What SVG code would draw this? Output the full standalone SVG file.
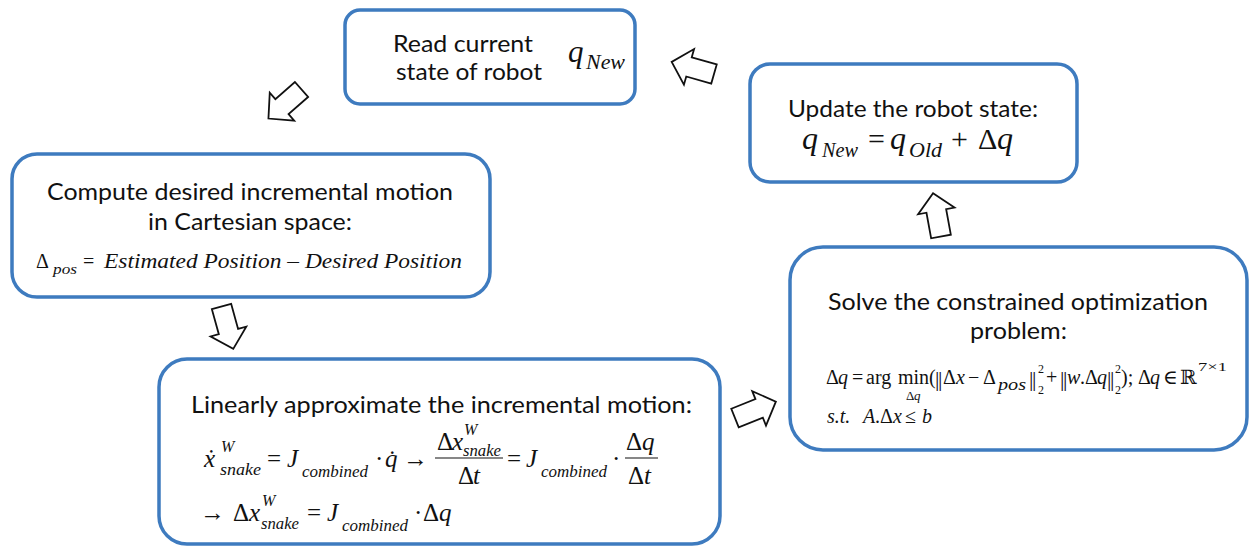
<svg xmlns="http://www.w3.org/2000/svg" width="1249" height="546" viewBox="0 0 1249 546">
<style>
.box{fill:#ffffff;stroke:#3E7BBF;stroke-width:3.5}
.t{font-family:Lato,"Open Sans","Liberation Sans",sans-serif;font-size:23px;fill:#111111}
.m{font-family:"Liberation Serif","DejaVu Serif",serif;font-style:italic;fill:#111111}
.u{font-family:"Liberation Serif","DejaVu Serif",serif;fill:#111111}
.arr{fill:#ffffff;stroke:#111111;stroke-width:1.8;stroke-linejoin:miter}
.bar{stroke:#111111;stroke-width:1.2}
</style>
<defs>
<polygon id="blockArrow" points="0,-10 26,-10 26,-18.5 44,0 26,18.5 26,10 0,10"/>
</defs>
<rect width="1249" height="546" fill="#ffffff"/>

<g id="node-read">
<rect class="box" x="345" y="10" width="290" height="94" rx="15"/>
<text class="t" x="393" y="52" textLength="140" lengthAdjust="spacingAndGlyphs">Read current</text>
<text class="t" x="396" y="80" textLength="146" lengthAdjust="spacingAndGlyphs">state of robot</text>
<text class="m" x="568" y="62" font-size="31">q</text>
<text class="m" x="586" y="69" font-size="21" textLength="39" lengthAdjust="spacingAndGlyphs">New</text>
</g>

<g id="node-update">
<rect class="box" x="750" y="64" width="327" height="118" rx="20"/>
<text class="t" x="788" y="117" textLength="250" lengthAdjust="spacingAndGlyphs">Update the robot state:</text>
<text class="m" x="802" y="149" font-size="32">q</text>
<text class="m" x="822" y="157" font-size="20" textLength="36" lengthAdjust="spacingAndGlyphs">New</text>
<text class="u" x="868" y="149" font-size="30">=</text>
<text class="m" x="890" y="149" font-size="32">q</text>
<text class="m" x="909" y="157" font-size="20" textLength="33" lengthAdjust="spacingAndGlyphs">Old</text>
<text class="u" x="951" y="149" font-size="30">+</text>
<text class="u" x="978" y="149" font-size="30">Δ</text>
<text class="m" x="997" y="149" font-size="32">q</text>
</g>

<g id="node-compute">
<rect class="box" x="12" y="154" width="478" height="143" rx="25"/>
<text class="t" x="47" y="200" textLength="406" lengthAdjust="spacingAndGlyphs">Compute desired incremental motion</text>
<text class="t" x="148" y="230" textLength="204" lengthAdjust="spacingAndGlyphs">in Cartesian space:</text>
<text class="u" x="36" y="268" font-size="20">Δ</text>
<text class="m" x="53" y="274" font-size="15" textLength="24" lengthAdjust="spacingAndGlyphs">pos</text>
<text class="u" x="83" y="268" font-size="20">=</text>
<text class="m" x="104" y="268" font-size="20" textLength="358" lengthAdjust="spacingAndGlyphs">Estimated  Position – Desired  Position</text>
</g>

<g id="node-solve">
<rect class="box" x="790" y="247" width="457" height="203" rx="33"/>
<text class="t" x="828" y="310" textLength="380" lengthAdjust="spacingAndGlyphs">Solve the constrained optimization</text>
<text class="t" x="970" y="339" textLength="97" lengthAdjust="spacingAndGlyphs">problem:</text>
<text class="u" x="826" y="384" font-size="20">Δ</text>
<text class="m" x="838" y="384" font-size="20">q</text>
<text class="u" x="852" y="384" font-size="20">=</text>
<text class="u" x="866" y="384" font-size="20">arg</text>
<text class="u" x="898" y="384" font-size="20">min</text>
<text class="u" x="906" y="400" font-size="13">Δ</text>
<text class="m" x="914" y="400" font-size="13">q</text>
<text class="u" x="929" y="384" font-size="20">(</text>
<text class="u" x="935" y="386" font-size="22" letter-spacing="-1.5">||</text>
<text class="u" x="943" y="384" font-size="20">Δ</text>
<text class="m" x="956" y="384" font-size="20">x</text>
<text class="u" x="968" y="384" font-size="20">−</text>
<text class="u" x="983" y="384" font-size="20">Δ</text>
<text class="m" x="998" y="390" font-size="16" textLength="28" lengthAdjust="spacingAndGlyphs">pos</text>
<text class="u" x="1029" y="386" font-size="22" letter-spacing="-1.5">||</text>
<text class="u" x="1038" y="373" font-size="12">2</text>
<text class="u" x="1038" y="394" font-size="12">2</text>
<text class="u" x="1046" y="384" font-size="20">+</text>
<text class="u" x="1060" y="386" font-size="22" letter-spacing="-1.5">||</text>
<text class="m" x="1067" y="384" font-size="20">w</text>
<text class="u" x="1080" y="384" font-size="20">.</text>
<text class="u" x="1085" y="384" font-size="20">Δ</text>
<text class="m" x="1097" y="384" font-size="20">q</text>
<text class="u" x="1107" y="386" font-size="22" letter-spacing="-1.5">||</text>
<text class="u" x="1115" y="373" font-size="12">2</text>
<text class="u" x="1115" y="394" font-size="12">2</text>
<text class="u" x="1121" y="384" font-size="20">);</text>
<text class="u" x="1138" y="384" font-size="20">Δ</text>
<text class="m" x="1150" y="384" font-size="20">q</text>
<text class="u" x="1163" y="384" font-size="20">∈</text>
<text class="u" x="1180" y="384" font-size="20">ℝ</text>
<text class="u" x="1198" y="371" font-size="12" textLength="29" lengthAdjust="spacingAndGlyphs">7×1</text>
<text class="m" x="827" y="423" font-size="20">s.t.</text>
<text class="m" x="863" y="423" font-size="20">A</text>
<text class="u" x="875" y="423" font-size="20">.</text>
<text class="u" x="880" y="423" font-size="20">Δ</text>
<text class="m" x="893" y="423" font-size="20">x</text>
<text class="u" x="905" y="423" font-size="20">≤</text>
<text class="m" x="922" y="423" font-size="20">b</text>
</g>

<g id="node-linear">
<rect class="box" x="159" y="359" width="561" height="185" rx="28"/>
<text class="t" x="191" y="413" textLength="501" lengthAdjust="spacingAndGlyphs">Linearly approximate the incremental motion:</text>
<text class="m" x="204" y="467" font-size="25">x&#x307;</text>
<text class="m" x="221" y="452" font-size="16">W</text>
<text class="m" x="220" y="475" font-size="17" textLength="41" lengthAdjust="spacingAndGlyphs">snake</text>
<text class="u" x="267" y="467" font-size="25">=</text>
<text class="m" x="287" y="467" font-size="25">J</text>
<text class="m" x="302" y="477" font-size="17" textLength="66" lengthAdjust="spacingAndGlyphs">combined</text>
<text class="u" x="375" y="467" font-size="25">·</text>
<text class="m" x="385" y="467" font-size="25">q&#x307;</text>
<text class="u" x="403" y="467" font-size="25">→</text>
<text class="u" x="437" y="450" font-size="25">Δ</text>
<text class="m" x="452" y="450" font-size="25">x</text>
<text class="m" x="464" y="435" font-size="16">W</text>
<text class="m" x="463" y="456" font-size="17" textLength="38" lengthAdjust="spacingAndGlyphs">snake</text>
<line class="bar" x1="435" y1="458" x2="503" y2="458"/>
<text class="u" x="458" y="484" font-size="25">Δ</text>
<text class="m" x="473" y="484" font-size="25">t</text>
<text class="u" x="507" y="467" font-size="25">=</text>
<text class="m" x="526" y="467" font-size="25">J</text>
<text class="m" x="541" y="477" font-size="17" textLength="66" lengthAdjust="spacingAndGlyphs">combined</text>
<text class="u" x="612" y="467" font-size="25">·</text>
<text class="u" x="626" y="450" font-size="25">Δ</text>
<text class="m" x="642" y="450" font-size="25">q</text>
<line class="bar" x1="625" y1="458" x2="658" y2="458"/>
<text class="u" x="628" y="484" font-size="25">Δ</text>
<text class="m" x="644" y="484" font-size="25">t</text>
<text class="u" x="200" y="521" font-size="25">→</text>
<text class="u" x="233" y="521" font-size="25">Δ</text>
<text class="m" x="249" y="521" font-size="25">x</text>
<text class="m" x="262" y="506" font-size="16">W</text>
<text class="m" x="261" y="529" font-size="17" textLength="38" lengthAdjust="spacingAndGlyphs">snake</text>
<text class="u" x="307" y="521" font-size="25">=</text>
<text class="m" x="327" y="521" font-size="25">J</text>
<text class="m" x="342" y="531" font-size="17" textLength="66" lengthAdjust="spacingAndGlyphs">combined</text>
<text class="u" x="414" y="521" font-size="25">·</text>
<text class="u" x="423" y="521" font-size="25">Δ</text>
<text class="m" x="439" y="521" font-size="25">q</text>
</g>

<g id="connectors">
<use href="#blockArrow" class="arr" transform="translate(301.5,89.5) rotate(138.7)"/>
<use href="#blockArrow" class="arr" transform="translate(714,74) rotate(195.9)"/>
<use href="#blockArrow" class="arr" transform="translate(221.5,306.5) rotate(74.5)"/>
<use href="#blockArrow" class="arr" transform="translate(735,418) rotate(-21.8)"/>
<use href="#blockArrow" class="arr" transform="translate(941,236.5) rotate(-100.4)"/>
</g>
</svg>
